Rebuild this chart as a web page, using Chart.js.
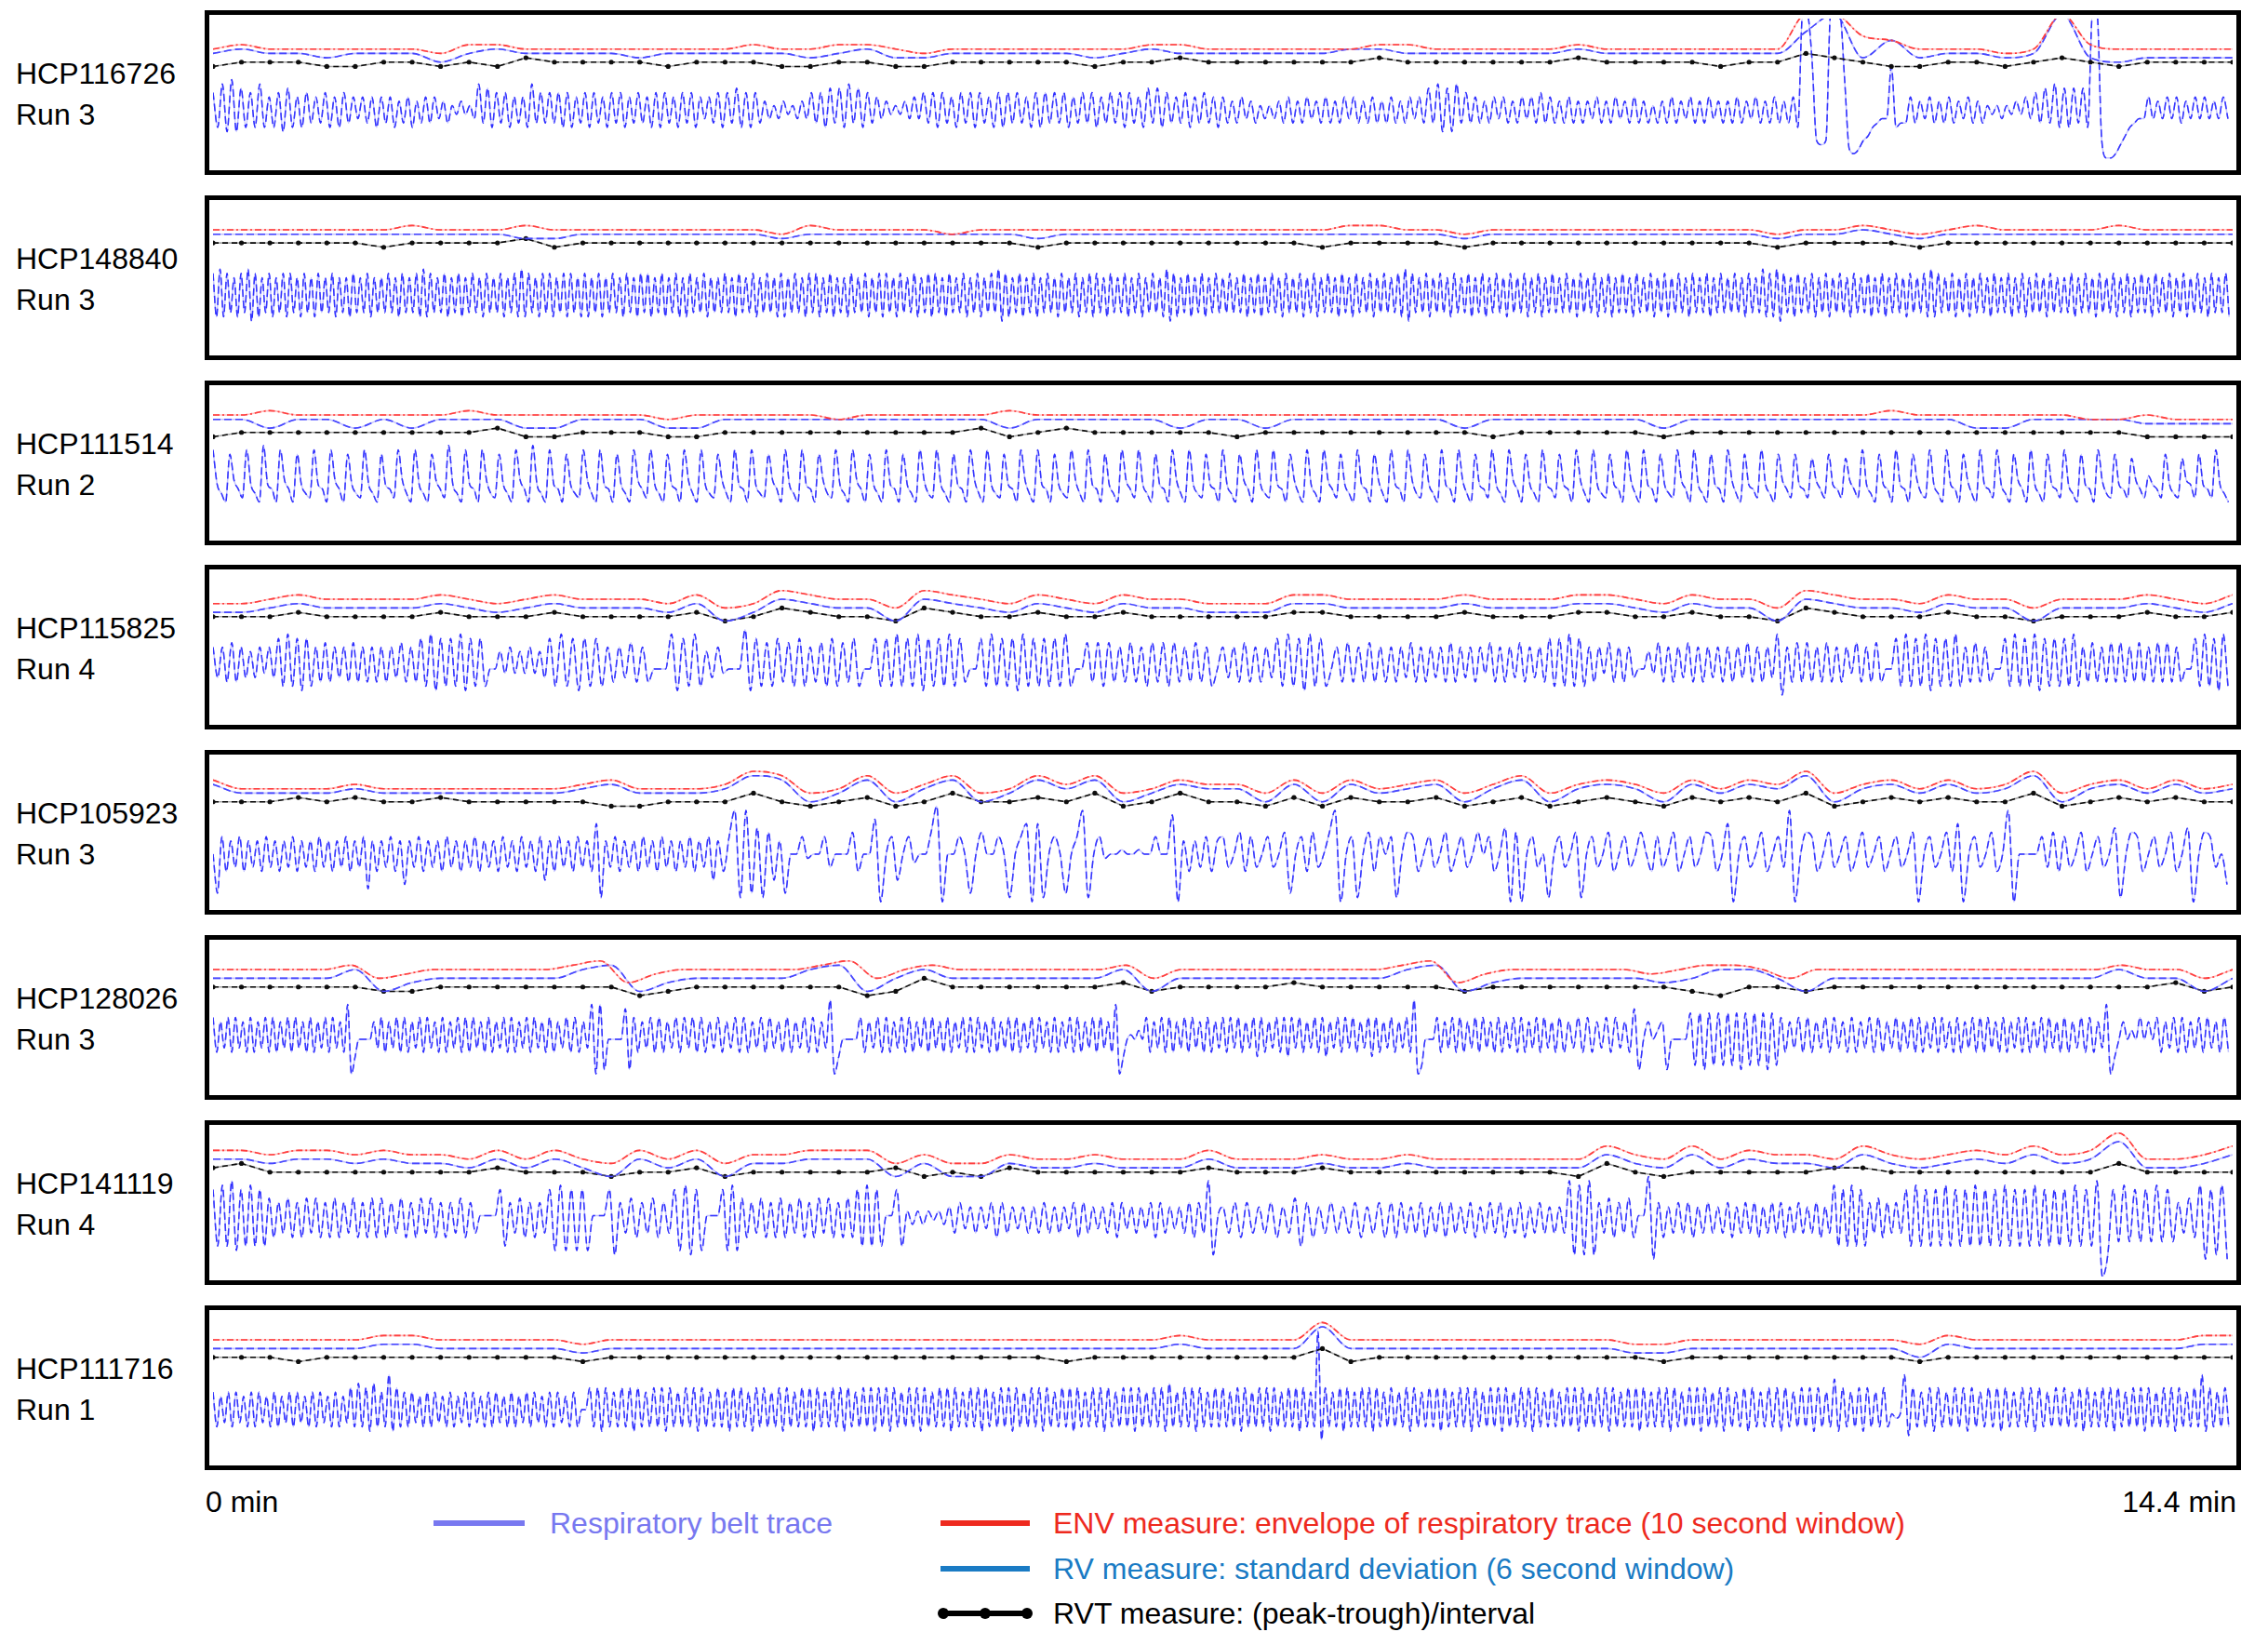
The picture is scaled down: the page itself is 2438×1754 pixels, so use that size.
<!DOCTYPE html>
<html lang="en">
<head>
<meta charset="UTF-8" />
<title>Respiratory traces</title>
<script src="https://cdn.jsdelivr.net/npm/chart.js"></script>
<style>
  body { margin: 0; background: #fff; font-family: "Liberation Sans", Arial, sans-serif; }
  #page { position: relative; width: 2438px; height: 1754px; overflow: hidden; }
  .panel { position: absolute; left: 220px; width: 2189px; height: 177px; border: 5px solid #000; box-sizing: border-box; }
  .panel canvas { display: block; }
  .label { position: absolute; left: 17px; font-size: 32px; line-height: 44px; color: #000; }
  .txt { position: absolute; font-size: 32px; line-height: 36px; white-space: nowrap; }
  .swatch { position: absolute; height: 6px; }
  .dot { position: absolute; width: 12px; height: 12px; border-radius: 6px; background: #000; }
</style>
</head>
<body>
<div id="page">
  <div class="txt" style="left:221px; top:1596px;">0 min</div>
  <div class="txt" style="right:34px; top:1596px;">14.4 min</div>

  <div class="swatch" style="left:466px; width:98px; top:1634px; background:#7878f0;"></div>
  <div class="txt" style="left:591px; top:1619px; color:#7878f0;">Respiratory belt trace</div>

  <div class="swatch" style="left:1011px; width:96px; top:1634px; background:#ee2a1e;"></div>
  <div class="txt" style="left:1132px; top:1619px; color:#ee2a1e;">ENV measure: envelope of respiratory trace (10 second window)</div>

  <div class="swatch" style="left:1011px; width:96px; top:1683px; background:#1a7bc4;"></div>
  <div class="txt" style="left:1132px; top:1668px; color:#1a7bc4;">RV measure: standard deviation (6 second window)</div>

  <div class="swatch" style="left:1011px; width:96px; top:1731px; background:#000;"></div>
  <div class="dot" style="left:1008px; top:1728px;"></div>
  <div class="dot" style="left:1053px; top:1728px;"></div>
  <div class="dot" style="left:1098px; top:1728px;"></div>
  <div class="txt" style="left:1132px; top:1716px; color:#000;">RVT measure: (peak-trough)/interval</div>
</div>

<script>
// one character = one level, base 36 (0..z), panel height = 34 levels
// belt traces: 12 chunks of 1.2 min each, samples spread evenly inside a chunk
// env / rv / rvt: 72 evenly spaced samples over 14.4 min
const names = ["HCP116726", "HCP148840", "HCP111514", "HCP115825", "HCP105923", "HCP128026", "HCP141119", "HCP111716"];
const runs = ["Run 3", "Run 3", "Run 2", "Run 4", "Run 3", "Run 3", "Run 4", "Run 1"];

const belt1 = ["h9j8k8i9h9j9g9h8i9g9hagah9g9hagbgag9", "gag9fag9fagagbfaecfcebjai9hah9gag9jaha", "hah9h9gah9hag9hah9gahag9h9hag9hah9gbga", "h9hai9h9hafbebfcebfbhah9iai9jai9hagb", "fcecfbgbhah9hag9hah9hag9h9hahag9h9ha", "hah9gahah9gahah9hag9iai9hagah9gahag9", "gafagbfaebebfagafagbfagafagbgafagafa", "gafagbgaiaj8i8jahagafagbgafagbgahaga", "fagafafbgafagbfagafaeafagafbgafagbfa", "fagafbgafagafag9zzp656zzzk434679abbn", "9aagafbgafagafbgafaecebecfcgbhaiaj9", "i9iai9zz6223579abbgbfbgbgafbgbgbfbgb"];
const env1 = "rsrrrrrrqssrrrrrrrrsrrssrqrrrrrrrssr" + "rrrrrssrrrrrsrrrrrrrzzutrrrqrzsrrrrr";
const rv1 = "qrqqpqqqoqrqqqqpqqqqqpqrppqqqqqpqrqq" + "qqqqrrqqqqqqrqqqqqqqvzptpqqpqzpopppp";
const rvt1 = "nooonnoononpoooonooonnoonnooooonoopo" + "ooooopoooooopoooonoo" + "qponnoonopon" + "oooo";

const belt2 = ["i8j8i9h8i9j7i8h9i8h9i8i9h8i9h8i9h9i8h9h8i9h9i8h9", "h9i9h8i9h9i8j8i9h9i8h9i8h9i9h8i9h9i8h9i8j8i9h8i9", "i8h9i8i9h8i8h9i8h9i9h8i9h8i9i8h9i8h9i8h8i9h9i8h9", "h9i9h8i9h9i8h9i9h8i8h9i9h8i9i8h9i8h9h8i9h9i8h9i8", "i9h8i9h9i8h9i8i9h8i9h9i8h9i8h9i9j7i8h9i8h9i8h9i9", "h8i9h9i8h9i8i9h8i9h9i8h9i8h9i9h8j7i8h9i8h9i8h9i9", "h9i9h9i8h9i8h9i9h8i9h9i8h9i8h9i9h8i9h8i9h9i8h9i9", "h9i8j7i9h9i8h9i9h8i9h9i8h9i8h9i9h8i9h9i8h9i8h9i9", "h9i9h8i9h9i8h9i8h9i9h8i9h9i8h9i8h9i9h8i9h9i8h9i9", "h9i9h8i9h9j8i8j7i9h8i9h9i8h9i8h9i9h8i9h9i8h9i8h9", "i9h8i9h9i8j8i9h9i8h9i8h9i9h8i9h9i8h9i8h9i9h8i9h9", "h9i8h9i9h8i9h9i8h9i8h9i9h8i9h9i8h9i8h9i9h8i9h9i8"];
const env2 = "ssssssstssstssssssssrtssssrsssssssss" + "ssssttssrssssssssssrsstsrstsssstssss";
const rv2 = "rrrrrrrrrrrqqrrrrrrrqrrrrrrrrqrrrrrr" + "rrrrrrrrqrrrrrrrrrrqrrsrqrrrrrrrrrrr";
const rvt2 = "ppppppoppppqoppppppppppppppppopppppp" + "pppoppppoppppppppppoppppoppppppppppp";

const belt3 = ["kca8jdb9kca8lcb8kdb8jca9kcb8kdb8jca9kca8", "jcb9kda8kca8jdb9lca8kcb8kda9jca8kdb8lca8", "kcb8jca9kda8kcb8jca8kdb9kca8jcb8kda8kca9", "jda8kcb8kca9jdb8kca8kcb8jda9kca8kdb8jca8", "kcb8jca8kda9kca8jcb8kda8kca9jcb8kda8kcb8", "jca9kda8kcb8jca8kdb9kca8jcb8kda8kca9jcb8", "kca8jdb8kca9kcb8jda8kca8kdb9jca8kcb8jda8", "kcb8kda9jca8kcb8kda8jcb9kca8kdb8jca8kcb9", "jcb8kda8kca9jcb8kda8kcb8jca9kdb8kca8jcb8", "kda8jcb9kca8jdb9jcb9idb9jcb9idb9kca8jcb8", "kcb8jda9kca8kcb8jda8kcb9kca8jdb8kca8jcb9", "kca8jcb8kda9jcb9idb9ecb9jca9idc9jcb9kca8"];
const env3 = "sstsssssstssssssrsssssrssssstsssssss" + "sssssssssssssssssssssss" + "t" + "ssssss" + "rrsrrr";
const rv3 = "rrprrprprrrpprrrpprrrrrrrrrrprrrrrpr" + "rprrrrrrprrrrrrprrrrrrrrrrpprrrrqqqq";
const rvt3 = "nooooooooopnnooonnooooooooopnopooooo" + "noooooooonooooonoooooooooooooooonnnn";

const belt4 = ["hah9i9hagahbhaj8k8j7j8h9i9hah9i9h9h9", "h9hai9h9j8k7j8j8k7j8j8ccgbhbgbhbga", "j8k8j7j8j8h9hai9h9ccck7j8k8ga", "hbcccl7j8i8j9i8j8h9i8j8i9j8ccj8", "j8k8j8k7j8j8k8j9ccj8k8j8j7k8j8j8", "j8k8cci9i8i9h9i9h8i9i8i9h9i9h8c", "hah9i9h9haj8k8j7k8j8ch9i9h9i9h9", "h9hai9h9hah9i9hah9hbi9h9hai9hah9j8", "j8k8j8h9hbi9h9haccgbi9h9hai9h9hah9", "h9hai9h9hak6h9i9i9h9i9h9hbi9h9i9cc", "j8k8j8k7j8j8k8h9i9h9ccj8k8j8k7j8j8", "j8k8h9i9h9i9i9h9i9h9i9i9h9ccj8k8j7k8"];
const env4 = "rrstsssstsrstsssrtqrutssqutsrtsrtssr" + "rrttsssstsssttsrtssqutssrtssqssstsrt";
const rv4 = "ppqrqqqqrqpqrqqqprnpsrqqnsrqprqprqqp" + "pprrqqqqrqqqrrqprqqnsrqqprqqnqqqrqpr";
const rvt4 = "ooopoooopooopoooopnoqpoonqpoopoopooo" + "ooppoooopoooppoopoonqpooopoonooopoop";

const belt5 = ["c3g8f9g8f9f8g9f8f9g8f9f8g9f8f9g8f9g4f8", "f9g8f5f9g8f9f8g9f8f9g8f9f8g9f8g9f8g6", "f8g9f8g9f8j2f9g8f9f8g9f8g9f8f9g8f9g6", "f8gm2m3i2h6f3ccgbccg9ccch8cck1", "cg6cgacchn1ccgc3chccgc2cgj1j2c", "gc3cgm2cgbccdccdccgccl1f8f9g8f", "g9ch8g9cg9ch3cg8h9chm1cg2ch8gc", "g2chg8cg9ch8cg9chcg8ci1h1cg9c2c", "g9ch2cg9ch8cg9chc8g9ch8cg9chg8c", "j1cg9ch8cg9m1chg8ch9cg8ch9cg8c", "g9ch1cg9ch8j1cg9ch8cm1ccccg9h8", "g9ch8cg9ci2chg8cg9ch8ci1chg9c5"];
const env5 = "trrrrsrrrrrrrstrrrsvuqruqsuqrusuqrts" + "sqtqtrstqsuqstsqtrtsvqstrtrsvqstrtrs";
const rv5 = "sqqqqrqqqqqqqrsqqqrutoqtortoqtrtoqsr" + "rososqrsortorsrosqsruorsqsqruorsqsqr";
const rvt5 = "ooopopoopooooonnoooqonopnoqoopoqnoqo" + "onpnpoopnopnoponpopoqnopopooqnopopoo";

const belt6 = ["h9gah9hag9h9gah9h9gah9hag9h9gah9hag9k48ccccga", "h9gah9h9gah9hag9h9gah9h9hag9h9gah9h9gah9hag9", "h9gah9h9gak4k5ccccj5h9gah9h9gah9hah9h9ga", "h9gah9h9gah9hag9h9gah9h9gal48cccch9gah9", "h9gah9h9gah9hag9h9gah9h9hag9h9gah9h9gah9hag9", "h9gah9h9gah9hag9k48cdcech9gah9h9gah9hag9h9ga", "h9hah9gah8h9gah9h8hah9gah9h8gah9hah9gah8h9ga", "h9gah9l46ccch9gah9h9gah9hag9h9gah9h9gah9hag9", "h9gah9h9gah9hag9j5cgceg5cccci6i5i6i6", "i6i5i6i6i5i6h9gah9h9gah9hag9h9gah9h9ga", "h9gah9h9gah9hag9h9gah9h9hag9h9gah9h9gah9hag9", "h9gah9h9gak48cgcechcgch9gah9h9gah9hag9h9"];
const env6 = "ssssstqrssssstuprssssstuqstsssssstqss" + "sssssstuprsssssrsttsqssssssssssstssqs";
const rv6 = "qqqqqsnpqqqqqstnpqqqqstnqsqqqqqqsnqq" + "qqqqqqstnpqqqqqpqssqnqqqqqqqqqqsqqnq";
const rvt6 = "oooooonnooooooomnoooooomnqoooooopnoo" + "oopooooonooooooonmoonoooooooooooopno";

const belt7 = ["k7l7m6k7l7k7i9hai9h9iai9h9i9hai9h9i9", "i9hai9h9iai9h9hai9haeeeek7hai9h9ha", "k6l6k6k6eeek5hai9hai9hak6l5k6ee", "ek6l6i9hai9h9i9hai9h9iai9h9i9k7l7k7", "eek7fcfcfdfcgahbgagbh9hagbgagaha", "gagbh9hagbgah9hbgagbh9hagbgah9ham5e", "ga h9haga h9gai7h9gahagah9gah9".replace(/ /g, ""), "h9hagah9gah9hagah9gahah9gah9gahaga", "gam5l5m5hai9hai9een4h9gahah9gahaga", "h9gahah9gahah9gahagah9gal7k7l7k7hai9ha", "hak7l7k7k7l7k7k7l7k7k7l7k7k7l7k7k7", "k7l7k7m05k8l8k8k8l8k8hai9l4k5l4"];
const env7 = "ttsttstssrtrtrqtrtqsstttqsqqsrrsrrrt" + "rrrsrrsrrrrrrusrurtssrusrstsustxrrsu";
const rv7 = "rrqrrqrqqprprpnrprnqqrrrnqnnqppqpppr" + "pppqppqppppppsqpsprqqpsqpqrqsqrvppqs";
const rvt7 = "pqoooooooopooonoopnooooopnonpoooooop" + "ooopoooooooonqonoooooppooooooooqoooo";

const belt8 = ["g8f9g8g9f8g8g9f8g8f9g8g9f8g8g9f8g8f9h8i8h7i8", "g8k7h8g8g9f8g8g9f8g8f9g8g9f8g8g9f8g8f9g8g9f8", "g8g9f8g8cch8h7h8g8h8h7h8g8h8h7h8g8h8h7h8g8", "h8g7h8h8g7h8h8g8h7h8g8h8h7h8g8h8h7h8g8h8h7h8", "h7h8g8h8h7h8g8h8h7h8g8h8h7h8g8h8h7h8g8h8h7h8", "g8h8h7h8g8h8h7h8g8h8h7h8g8h8h7i8g8h8h7h8g8h8", "h8g8h7h8g8h8h7h8g8h8h7h8g8u5h8g8h7h8g8h8h7h8g8", "h8g8h7h8g8h8h7h8g8h8h7h8g8h8h7h8g8h8h7h8g8h8", "g8h8h7h8g8h8h7h8g8h8h7h8g8h8h7h8g8h8h7h8g8h7", "h8g8h7h8g8h8h7h8g8h8h7h8g8j7h8g8h7h8g8h8b", "abk6h8g8h7h8g8h8h7h8g8h8h7h8g8h8h7h8g8h8", "h8g8h7h8g8h8h7h8g8h8h7h8g8h8h7h8g8h8k7h8g8h8"];
const env8 = "ssssssttsssssrssssssssssssssssssssts" + "ssswssssssssssrrssssssssrtsssssssstt";
const rv8 = "qqqqqqrrqqqqqpqqqqqqqqqqqqqqqqqqqqrq" + "qqqvqqqqqqqqqqppqqqqqqqqorqqqqqqqqrr";
const rvt8 = "ooonooooooooonoooooooooooooooonooooo" + "oooqnoooooooooonoooooooonooooooooooo";

const panels = [
  { belt: belt1, env: env1, rv: rv1, rvt: rvt1 },
  { belt: belt2, env: env2, rv: rv2, rvt: rvt2 },
  { belt: belt3, env: env3, rv: rv3, rvt: rvt3 },
  { belt: belt4, env: env4, rv: rv4, rvt: rvt4 },
  { belt: belt5, env: env5, rv: rv5, rvt: rvt5 },
  { belt: belt6, env: env6, rv: rv6, rvt: rvt6 },
  { belt: belt7, env: env7, rv: rv7, rvt: rvt7 },
  { belt: belt8, env: env8, rv: rv8, rvt: rvt8 }
];

const runMinutes = 14.4;
const level = c => parseInt(c, 36);

function chunkPoints(chunks) {
  const w = runMinutes / chunks.length;
  const pts = [];
  chunks.forEach((s, k) => {
    for (let j = 0; j < s.length; j++) pts.push({ x: (k + j / s.length) * w, y: level(s[j]) });
  });
  return pts;
}

function evenPoints(s) {
  return [...s].map((c, i) => ({ x: i / (s.length - 1) * runMinutes, y: level(c) }));
}

function trace(data, color, pale, dash, width, dots, smooth) {
  const common = { data, pointRadius: 0, borderWidth: width, cubicInterpolationMode: smooth ? 'monotone' : 'default', tension: 0 };
  return [
    Object.assign({}, common, { borderColor: pale }),
    Object.assign({}, common, {
      borderColor: color, borderDash: dash,
      pointRadius: dots ? 2.6 : 0, pointBackgroundColor: color, pointBorderWidth: 0
    })
  ];
}

const page = document.getElementById('page');

panels.forEach((p, i) => {
  const top = 11 + i * 198.8;

  const box = document.createElement('div');
  box.className = 'panel';
  box.style.top = top + 'px';
  const cv = document.createElement('canvas');
  cv.width = 2179;
  cv.height = 167;
  box.appendChild(cv);
  page.appendChild(box);

  const lab = document.createElement('div');
  lab.className = 'label';
  lab.style.top = (top + 46) + 'px';
  lab.innerHTML = names[i] + '<br>' + runs[i];
  page.appendChild(lab);

  new Chart(cv, {
    type: 'line',
    data: {
      datasets: [
        ...trace(evenPoints(p.env), '#ff1010', 'rgba(255,120,120,0.45)', [7, 3, 2, 3], 1.6, false, true),
        ...trace(evenPoints(p.rv), '#2020ff', 'rgba(120,120,255,0.45)', [8, 4], 1.6, false, true),
        ...trace(evenPoints(p.rvt), '#111111', 'rgba(0,0,0,0.35)', [6, 4], 1.6, true, false),
        ...trace(chunkPoints(p.belt), '#1010ff', 'rgba(110,110,255,0.4)', [8, 4], 1.5, false, true)
      ]
    },
    options: {
      responsive: false,
      animation: false,
      events: [],
      layout: { padding: 0 },
      plugins: { legend: { display: false }, tooltip: { enabled: false } },
      scales: {
        x: { type: 'linear', min: 0, max: runMinutes, display: false },
        y: { min: 0, max: 34, display: false }
      }
    }
  });
});
</script>
</body>
</html>
